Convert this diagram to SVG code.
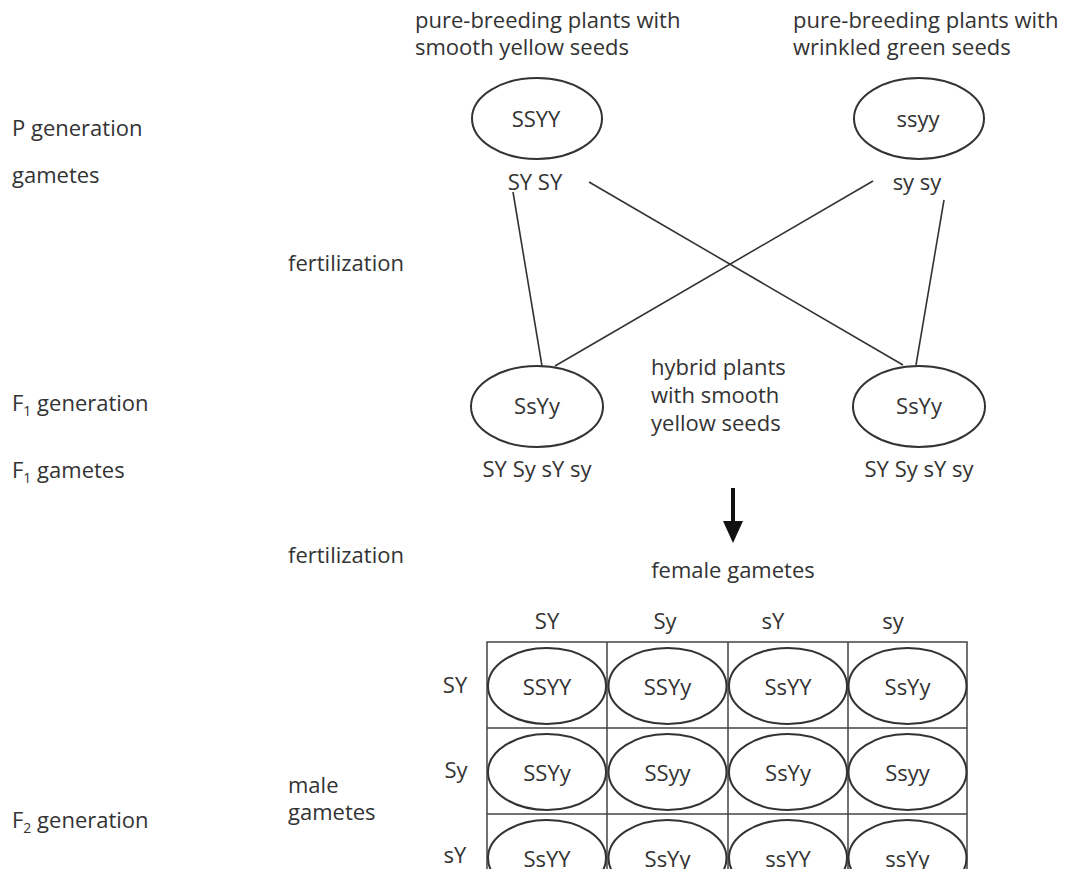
<svg xmlns="http://www.w3.org/2000/svg" width="1073" height="869" viewBox="0 0 1073 869">
<style>
text{font-family:"Open Sans","Noto Sans","Liberation Sans",sans-serif;font-size:22px;fill:#333}
.m{text-anchor:middle}
.e{fill:none;stroke:#333;stroke-width:2}
.l{stroke:#333;stroke-width:1.6;fill:none}
.g{stroke:#444;stroke-width:1.5;fill:none}
.sub{font-size:14px}
</style>
<rect width="1073" height="869" fill="#fff"/>
<g id="labels">
<text x="12" y="136">P generation</text>
<text x="12" y="183">gametes</text>
<text x="288" y="271">fertilization</text>
<text x="12" y="411">F<tspan class="sub" dy="5">1</tspan><tspan dy="-5"> generation</tspan></text>
<text x="12" y="478">F<tspan class="sub" dy="5">1</tspan><tspan dy="-5"> gametes</tspan></text>
<text x="288" y="563">fertilization</text>
<text x="12" y="828">F<tspan class="sub" dy="5">2</tspan><tspan dy="-5"> generation</tspan></text>
<text x="288" y="793">male</text>
<text x="288" y="820">gametes</text>
</g>
<g id="p-smooth">
<text x="415" y="28">pure-breeding plants with</text>
<text x="415" y="55">smooth yellow seeds</text>
<ellipse class="e" cx="537" cy="118.5" rx="65" ry="40.5"/>
<text class="m" x="536" y="127">SSYY</text>
<text class="m" x="535" y="190">SY SY</text>
</g>
<g id="p-wrinkled">
<text x="793" y="28">pure-breeding plants with</text>
<text x="793" y="55">wrinkled green seeds</text>
<ellipse class="e" cx="919" cy="118.5" rx="65" ry="40.5"/>
<text class="m" x="918" y="127">ssyy</text>
<text class="m" x="917" y="190">sy sy</text>
</g>
<g id="connectors">
<line class="l" x1="513" y1="192" x2="542" y2="366"/>
<line class="l" x1="589" y1="182" x2="903" y2="365"/>
<line class="l" x1="873" y1="181" x2="555" y2="366"/>
<line class="l" x1="944" y1="200" x2="916" y2="365"/>
<rect x="731" y="488" width="4" height="36" fill="#111"/>
<polygon points="723,521 743,521 733,543" fill="#111"/>
</g>
<g id="f1-left">
<ellipse class="e" cx="537" cy="406.5" rx="66" ry="40.5"/>
<text class="m" x="537" y="414">SsYy</text>
<text class="m" x="537" y="477">SY Sy sY sy</text>
</g>
<g id="hybrid-label">
<text x="651" y="375">hybrid plants</text>
<text x="651" y="403">with smooth</text>
<text x="651" y="431">yellow seeds</text>
</g>
<g id="f1-right">
<ellipse class="e" cx="919" cy="406.5" rx="66" ry="40.5"/>
<text class="m" x="919" y="414">SsYy</text>
<text class="m" x="919" y="477">SY Sy sY sy</text>
</g>
<g id="punnett">
<text class="m" x="733" y="578">female gametes</text>
<text class="m" x="547" y="629">SY</text>
<text class="m" x="665" y="629">Sy</text>
<text class="m" x="773" y="629">sY</text>
<text class="m" x="893" y="629">sy</text>
<text class="m" x="455" y="693">SY</text>
<text class="m" x="456" y="778">Sy</text>
<text class="m" x="455" y="863">sY</text>
<path class="g" d="M487,870 V642 H967 V870 M607,642 V870 M728,642 V870 M848,642 V870 M487,728 H967 M487,814 H967"/>
<g id="cell-r1">
<ellipse class="e" cx="547" cy="686" rx="59" ry="38"/><text class="m" x="547" y="695">SSYY</text>
<ellipse class="e" cx="667.5" cy="686" rx="59" ry="38"/><text class="m" x="667.5" y="695">SSYy</text>
<ellipse class="e" cx="788" cy="686" rx="59" ry="38"/><text class="m" x="788" y="695">SsYY</text>
<ellipse class="e" cx="907.5" cy="686" rx="59" ry="38"/><text class="m" x="907.5" y="695">SsYy</text>
</g>
<g id="cell-r2">
<ellipse class="e" cx="547" cy="772" rx="59" ry="38"/><text class="m" x="547" y="781">SSYy</text>
<ellipse class="e" cx="667.5" cy="772" rx="59" ry="38"/><text class="m" x="667.5" y="781">SSyy</text>
<ellipse class="e" cx="788" cy="772" rx="59" ry="38"/><text class="m" x="788" y="781">SsYy</text>
<ellipse class="e" cx="907.5" cy="772" rx="59" ry="38"/><text class="m" x="907.5" y="781">Ssyy</text>
</g>
<g id="cell-r3">
<ellipse class="e" cx="547" cy="858" rx="59" ry="38"/><text class="m" x="547" y="867">SsYY</text>
<ellipse class="e" cx="667.5" cy="858" rx="59" ry="38"/><text class="m" x="667.5" y="867">SsYy</text>
<ellipse class="e" cx="788" cy="858" rx="59" ry="38"/><text class="m" x="788" y="867">ssYY</text>
<ellipse class="e" cx="907.5" cy="858" rx="59" ry="38"/><text class="m" x="907.5" y="867">ssYy</text>
</g>
</g>
</svg>
